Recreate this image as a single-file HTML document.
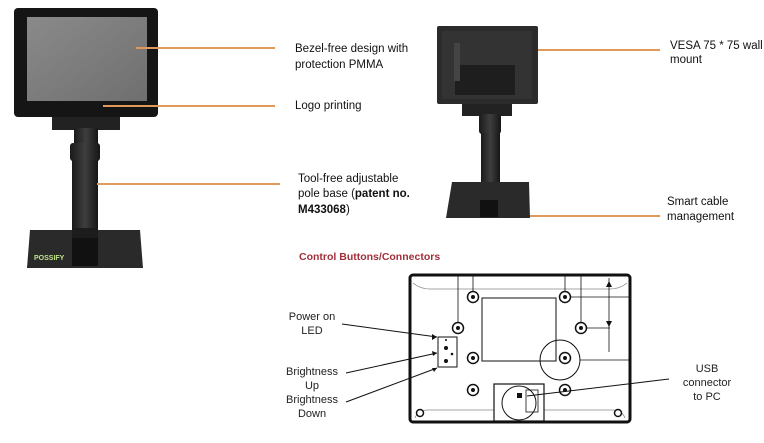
<!DOCTYPE html>
<html><head><style>
html,body{margin:0;padding:0;background:#fff;}
svg{display:block;}
text{font-family:"Liberation Sans",sans-serif;}
</style></head><body>
<svg width="764" height="443" viewBox="0 0 764 443" xmlns="http://www.w3.org/2000/svg">
<defs>
<linearGradient id="scr" x1="0" y1="0" x2="1" y2="1"><stop offset="0" stop-color="#8a8a8a"/><stop offset="1" stop-color="#6f6f6f"/></linearGradient>
<linearGradient id="pole" x1="0" x2="1"><stop offset="0" stop-color="#1a1a1a"/><stop offset=".5" stop-color="#3e3e3e"/><stop offset="1" stop-color="#161616"/></linearGradient>
</defs>
<!-- left monitor -->
<rect x="14" y="8" width="144" height="109" rx="4" fill="#151515"/>
<rect x="27" y="17" width="120" height="84" fill="url(#scr)"/>
<rect x="52" y="117" width="68" height="13" fill="#222"/>
<rect x="74" y="128" width="24" height="17" fill="url(#pole)"/>
<rect x="70" y="143" width="30" height="18" rx="3" fill="url(#pole)"/>
<rect x="72" y="160" width="26" height="74" fill="url(#pole)"/>
<path d="M30 230 L140 230 L143 268 L27 268 Z" fill="#2a2a2a"/>
<rect x="72" y="228" width="26" height="10" fill="#1c1c1c"/>
<rect x="72" y="238" width="26" height="28" fill="#111"/>
<text x="34" y="260" font-size="7" font-weight="bold" fill="#bfe28a">POSSIFY</text>
<!-- left lines -->
<g stroke="#e0995a" stroke-width="2">
<line x1="136" y1="48" x2="275" y2="48"/>
<line x1="103" y1="106" x2="275" y2="106"/>
<line x1="97" y1="184" x2="280" y2="184"/>
<line x1="512" y1="50" x2="660" y2="50"/>
<line x1="485" y1="216" x2="660" y2="216"/>
</g>
<g font-size="11.5" fill="#111">
<text x="295" y="52">Bezel-free design with</text>
<text x="295" y="68">protection PMMA</text>
<text x="295" y="109">Logo printing</text>
<text x="298" y="182">Tool-free adjustable</text>
<text x="298" y="197">pole base (<tspan font-weight="bold">patent no.</tspan></text>
<text x="298" y="213" font-weight="bold">M433068<tspan font-weight="normal">)</tspan></text>
<text x="670" y="49">VESA 75 * 75 wall</text>
<text x="670" y="63">mount</text>
<text x="667" y="205">Smart cable</text>
<text x="667" y="220">management</text>
</g>
<!-- right monitor -->
<rect x="437" y="26" width="101" height="78" rx="2" fill="#2b2b2b"/>
<rect x="442" y="31" width="90" height="68" fill="#333"/>
<rect x="455" y="65" width="60" height="30" fill="#1e1e1e"/>
<rect x="454" y="43" width="6" height="38" fill="#444"/>
<rect x="462" y="104" width="50" height="12" fill="#222"/>
<rect x="479" y="114" width="22" height="20" rx="3" fill="url(#pole)"/>
<rect x="481" y="133" width="19" height="50" fill="url(#pole)"/>
<path d="M452 182 L529 182 L530 218 L446 218 Z" fill="#2a2a2a"/>
<rect x="480" y="200" width="18" height="17" fill="#111"/>
<!-- title -->
<text x="299" y="260" font-size="10.5" font-weight="bold" fill="#a0303c">Control Buttons/Connectors</text>
<!-- bottom diagram -->
<g stroke="#111" fill="none">
<rect x="410" y="275" width="220" height="147" rx="3" stroke-width="3"/>
<path d="M413 283 Q420 289 430 289 L610 289 Q620 289 627 283" stroke-width="0.8" stroke="#888"/>
<path d="M415 418 Q418 410 428 410 L494 410 M544 410 L612 410 Q622 410 625 418" stroke-width="0.8" stroke="#888"/>
<rect x="482" y="298" width="74" height="63" stroke-width="1"/>
<g stroke-width="0.8">
<line x1="458" y1="276" x2="458" y2="322"/>
<line x1="473" y1="276" x2="473" y2="291"/>
<line x1="565" y1="276" x2="565" y2="291"/>
<line x1="581" y1="276" x2="581" y2="322"/>
<line x1="609" y1="278" x2="609" y2="352"/>
<line x1="571" y1="297" x2="630" y2="297"/>
<line x1="587" y1="328" x2="610" y2="328"/>
<line x1="580" y1="360" x2="630" y2="360"/>
</g>
<circle cx="560" cy="360" r="20" stroke-width="1"/>
<rect x="438" y="337" width="19" height="30" stroke-width="1"/>
<rect x="494" y="384" width="50" height="37" stroke-width="1.2"/>
<circle cx="519" cy="403" r="17" stroke-width="1"/>
<rect x="526" y="390" width="12" height="22" stroke-width="0.8"/>
</g>
<path d="M606 287 L609 281 L612 287 Z M606 321 L609 327 L612 321 Z" fill="#111"/>
<g fill="#fff" stroke="#111" stroke-width="1.5">
<circle cx="473" cy="297" r="5.5"/><circle cx="565" cy="297" r="5.5"/>
<circle cx="458" cy="328" r="5.5"/><circle cx="581" cy="328" r="5.5"/>
<circle cx="473" cy="358" r="5.5"/><circle cx="565" cy="358" r="5.5"/>
<circle cx="473" cy="390" r="5.5"/><circle cx="565" cy="390" r="5.5"/>
<circle cx="420" cy="413" r="3.5"/><circle cx="618" cy="413" r="3.5"/>
</g>
<g fill="#111">
<circle cx="473" cy="297" r="2"/><circle cx="565" cy="297" r="2"/>
<circle cx="458" cy="328" r="2"/><circle cx="581" cy="328" r="2"/>
<circle cx="473" cy="358" r="2"/><circle cx="565" cy="358" r="2"/>
<circle cx="473" cy="390" r="2"/><circle cx="565" cy="390" r="2"/>
<circle cx="446" cy="348" r="2"/><circle cx="446" cy="361" r="2"/><circle cx="452" cy="354" r="1.3"/><circle cx="446" cy="340" r="1"/>
<rect x="517" y="393" width="5" height="5"/>
</g>
<g stroke="#111" stroke-width="1">
<line x1="342" y1="324" x2="437" y2="337"/>
<line x1="346" y1="373" x2="437" y2="353"/>
<line x1="346" y1="402" x2="437" y2="368"/>
<line x1="669" y1="379" x2="527" y2="396"/>
</g>
<path d="M437 337 l-5 -3 l0 6 Z M437 353 l-5 -2 l1 5 Z M437 368 l-5 0 l2 4 Z" fill="#111"/>
<g font-size="11" fill="#222" text-anchor="middle">
<text x="312" y="320">Power on</text>
<text x="312" y="334">LED</text>
<text x="312" y="375">Brightness</text>
<text x="312" y="389">Up</text>
<text x="312" y="403">Brightness</text>
<text x="312" y="417">Down</text>
<text x="707" y="372">USB</text>
<text x="707" y="386">connector</text>
<text x="707" y="400">to PC</text>
</g>
</svg>
</body></html>
